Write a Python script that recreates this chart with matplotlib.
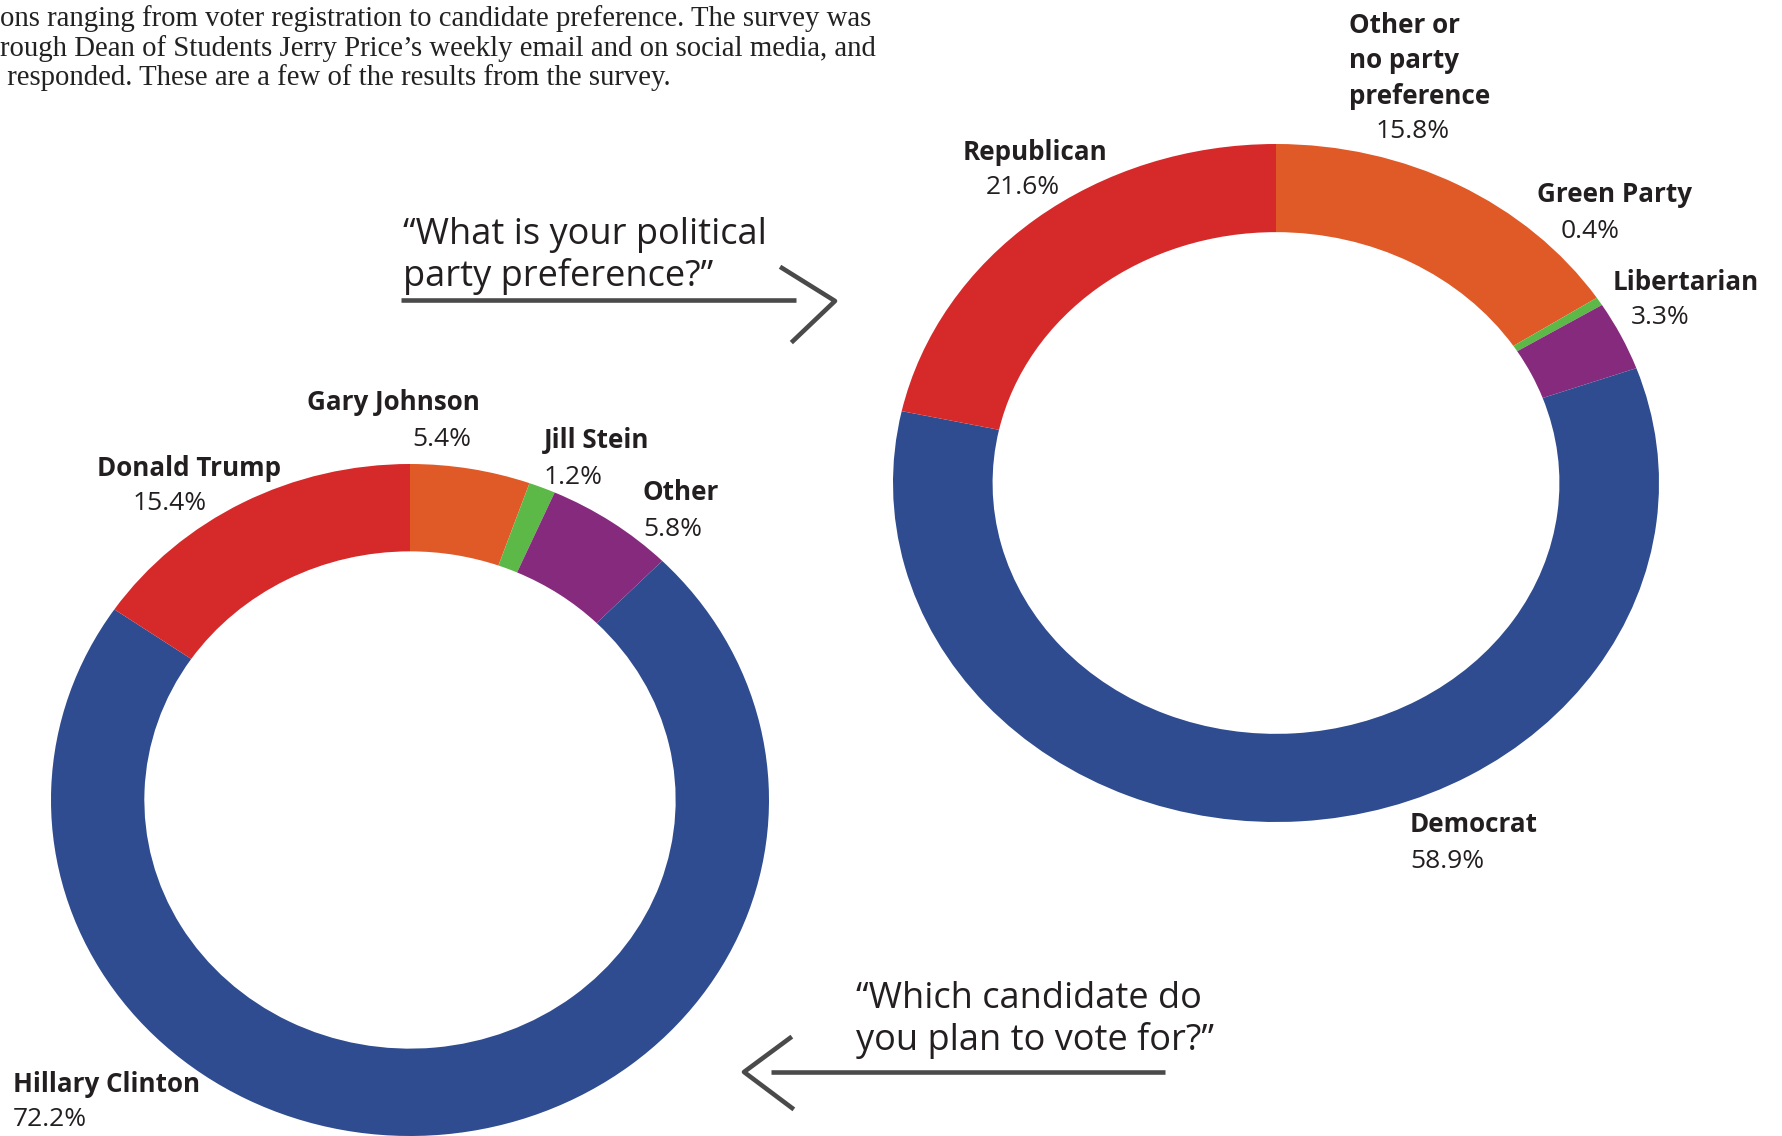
import matplotlib.pyplot as plt

# survey results, clockwise from 12 o'clock
party_labels = ["Other or\nno party\npreference", "Green Party", "Libertarian", "Democrat", "Republican"]
party_values = [15.8, 0.4, 3.3, 58.9, 21.6]
party_colors = ["#E05A28", "#5DB947", "#862A7E", "#2E4C8F", "#D62A2A"]

cand_labels = ["Gary Johnson", "Jill Stein", "Other", "Hillary Clinton", "Donald Trump"]
cand_values = [5.4, 1.2, 5.8, 72.2, 15.4]
cand_colors = ["#E05A28", "#5DB947", "#862A7E", "#2E4C8F", "#D62A2A"]

intro_lines = [
    "ons ranging from voter registration to candidate preference. The survey was",
    "rough Dean of Students Jerry Price\u2019s weekly email and on social media, and",
    " responded. These are a few of the results from the survey.",
]

W, H = 1782, 1136
fig = plt.figure(figsize=(W / 100, H / 100), dpi=100)

# background axes in pixel coords for text and arrows
bg = fig.add_axes([0, 0, 1, 1])
bg.set_xlim(0, W)
bg.set_ylim(H, 0)
bg.axis("off")


def donut(cx, cy, rx, ry, values, colors):
    ax = fig.add_axes([(cx - rx) / W, (H - cy - ry) / H, 2 * rx / W, 2 * ry / H])
    ax.pie(values, colors=colors, startangle=90, counterclock=False,
           wedgeprops=dict(width=0.26, linewidth=0))
    ax.set_aspect("auto")
    ax.set_xlim(-1, 1)
    ax.set_ylim(-1, 1)
    ax.axis("off")
    return ax


donut(1276, 483, 383, 339, party_values, party_colors)
donut(410, 800, 359, 336, cand_values, cand_colors)

# intro paragraph (cut off at the left)
for i, line in enumerate(intro_lines):
    bg.text(0, 19 + i * 29.5, line, fontsize=20.7, family="Liberation Serif",
            va="center", ha="left", color="#222222")

name_kw = dict(fontsize=18.7, family="Open Sans", color="#231f20", va="center",
               fontweight="bold", ha="left", linespacing=1.4)
pct_kw = dict(fontsize=19, family="Open Sans", color="#231f20", va="center")


def label(x, y, name, pct, px, ha_pct="left"):
    n = name.count("\n") + 1
    bg.text(x, y, name, **name_kw)
    bg.text(px, y + 17.5 * (n - 1) + 36, f"{pct}%", ha=ha_pct, **pct_kw)


# party preference labels
label(1349, 61, party_labels[0], party_values[0], 1413, "center")
label(963, 152, party_labels[4], party_values[4], 1023, "center")
label(1537, 195, party_labels[1], party_values[1], 1590, "center")
label(1613, 282, party_labels[2], party_values[2], 1660, "center")
label(1410, 825, party_labels[3], party_values[3], 1410)

# candidate labels
label(307, 403, cand_labels[0], cand_values[0], 442, "center")
label(544, 441, cand_labels[1], cand_values[1], 544)
label(97, 468, cand_labels[4], cand_values[4], 170, "center")
label(643, 493, cand_labels[2], cand_values[2], 643)
label(13, 1084, cand_labels[3], cand_values[3], 13)

# questions with arrows
q = dict(fontsize=26, family="Open Sans", color="#231f20", va="center", ha="left",
         linespacing=1.15)
bg.text(403, 256, "\u201cWhat is your political\nparty preference?\u201d", **q)
bg.plot([401, 796], [300, 300], color="#4a4a4a", lw=3.3, solid_capstyle="butt")
bg.plot([782, 835, 793], [268, 301, 341], color="#4a4a4a", lw=3.3)

bg.text(856, 1020, "\u201cWhich candidate do\nyou plan to vote for?\u201d", **q)
bg.plot([771, 1165], [1072, 1072], color="#4a4a4a", lw=3.3, solid_capstyle="butt")
bg.plot([790, 744, 792], [1038, 1072, 1108], color="#4a4a4a", lw=3.3)

fig.savefig("out.png", dpi=100)
